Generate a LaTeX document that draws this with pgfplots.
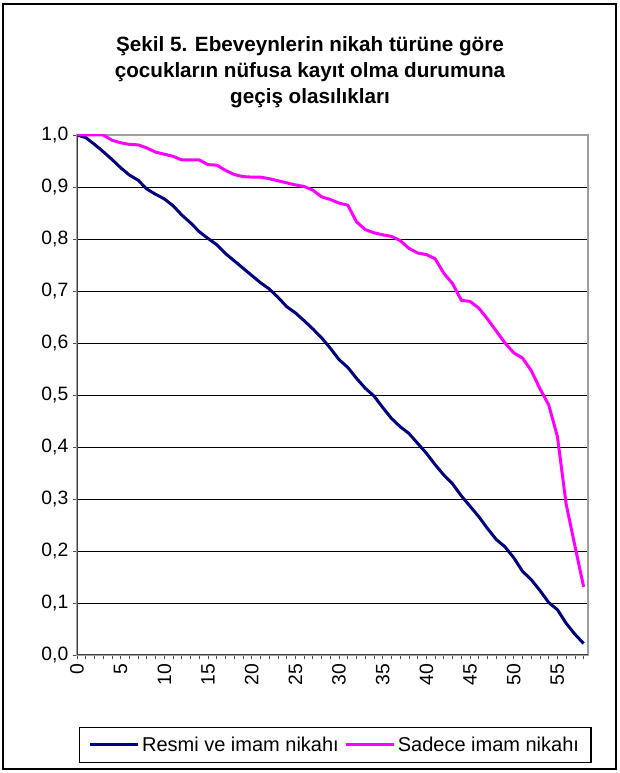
\documentclass[border=0pt]{standalone}
\usepackage{pgfplots}
\usepackage{pgfplotstable}
\pgfplotsset{compat=1.18}
\usepackage{fontspec}
\setmainfont{Liberation Sans}
\definecolor{navyline}{HTML}{000080}
\definecolor{magline}{HTML}{FF00FF}
\pgfplotstableread{
x resmi sadece
0 1.000 1.000
1 0.995 1.000
2 0.982 1.000
3 0.968 1.000
4 0.953 0.990
5 0.937 0.985
6 0.923 0.982
7 0.913 0.981
8 0.896 0.975
9 0.886 0.967
10 0.877 0.963
11 0.864 0.959
12 0.846 0.952
13 0.831 0.952
14 0.814 0.952
15 0.801 0.943
16 0.789 0.942
17 0.772 0.932
18 0.758 0.924
19 0.744 0.920
20 0.730 0.919
21 0.716 0.919
22 0.704 0.916
23 0.688 0.912
24 0.670 0.908
25 0.658 0.904
26 0.643 0.901
27 0.627 0.894
28 0.610 0.881
29 0.590 0.876
30 0.568 0.869
31 0.553 0.865
32 0.532 0.833
33 0.513 0.818
34 0.498 0.812
35 0.476 0.808
36 0.455 0.805
37 0.439 0.797
38 0.426 0.782
39 0.407 0.773
40 0.388 0.770
41 0.366 0.762
42 0.346 0.734
43 0.329 0.714
44 0.306 0.682
45 0.286 0.680
46 0.266 0.667
47 0.243 0.646
48 0.222 0.623
49 0.208 0.600
50 0.187 0.581
51 0.161 0.571
52 0.145 0.547
53 0.124 0.512
54 0.101 0.481
55 0.087 0.420
56 0.061 0.290
57 0.040 0.210
58 0.022 0.131
}\datatable
\begin{document}
\begin{tikzpicture}
\path (0,0) rectangle (464.25pt,579.75pt);
\draw[line width=1.5pt] (2.25pt,3pt) rectangle (462pt,576.75pt);
\node[align=center, font=\fontsize{15.5}{19.5}\selectfont\bfseries] at (232.5pt,525.75pt)
  {Şekil 5. Ebeveynlerin nikah türüne göre\\çocukların nüfusa kayıt olma durumuna\\geçiş olasılıkları};
\begin{axis}[
  at={(57.75pt,88.5pt)}, anchor=south west,
  scale only axis, width=383.25pt, height=390pt,
  xmin=0, xmax=58.5, ymin=0, ymax=1,
  xtick={0,5,...,55}, minor xtick={0,1,...,58},
  ytick={0,0.1,...,1.0},
  tick align=outside, major tick length=3pt, minor tick length=3pt,
  tick style={black!70, line width=0.6pt},
  xtick pos=bottom, ytick pos=left,
  ymajorgrids, grid style={black, line width=0.6pt},
  axis line style={draw=gray!75, line width=1.5pt},
  tick label style={font=\fontsize{14.5}{16}\selectfont},
  x tick label style={rotate=90, anchor=east},
  /pgf/number format/assume math mode=true,
  y tick label style={/pgf/number format/.cd, use comma, fixed, fixed zerofill, precision=1},
  legend columns=2,
  legend style={at={(0.505,-0.173)}, anchor=center, draw=black, line width=0.8pt,
    font=\fontsize{15}{17}\selectfont, inner xsep=7pt, inner ysep=5pt,
    /tikz/every even column/.append style={column sep=2pt}},
  legend cell align=left,
  legend image code/.code={\draw[#1, line width=2.25pt] (0pt,0pt) -- (36pt,0pt);},
]
\draw[black!75, line width=1.2pt] (axis cs:0,0) -- (axis cs:0,1);
\draw[black!75, line width=1.2pt] (axis cs:0,0) -- (axis cs:58.5,0);
\addplot[navyline, line width=2.25pt, line join=round] table[x=x, y=resmi] {\datatable};
\addlegendentry{Resmi ve imam nikahı}
\addplot[magline, line width=2.25pt, line join=round] table[x=x, y=sadece] {\datatable};
\addlegendentry{Sadece imam nikahı}
\end{axis}
\end{tikzpicture}
\end{document}
